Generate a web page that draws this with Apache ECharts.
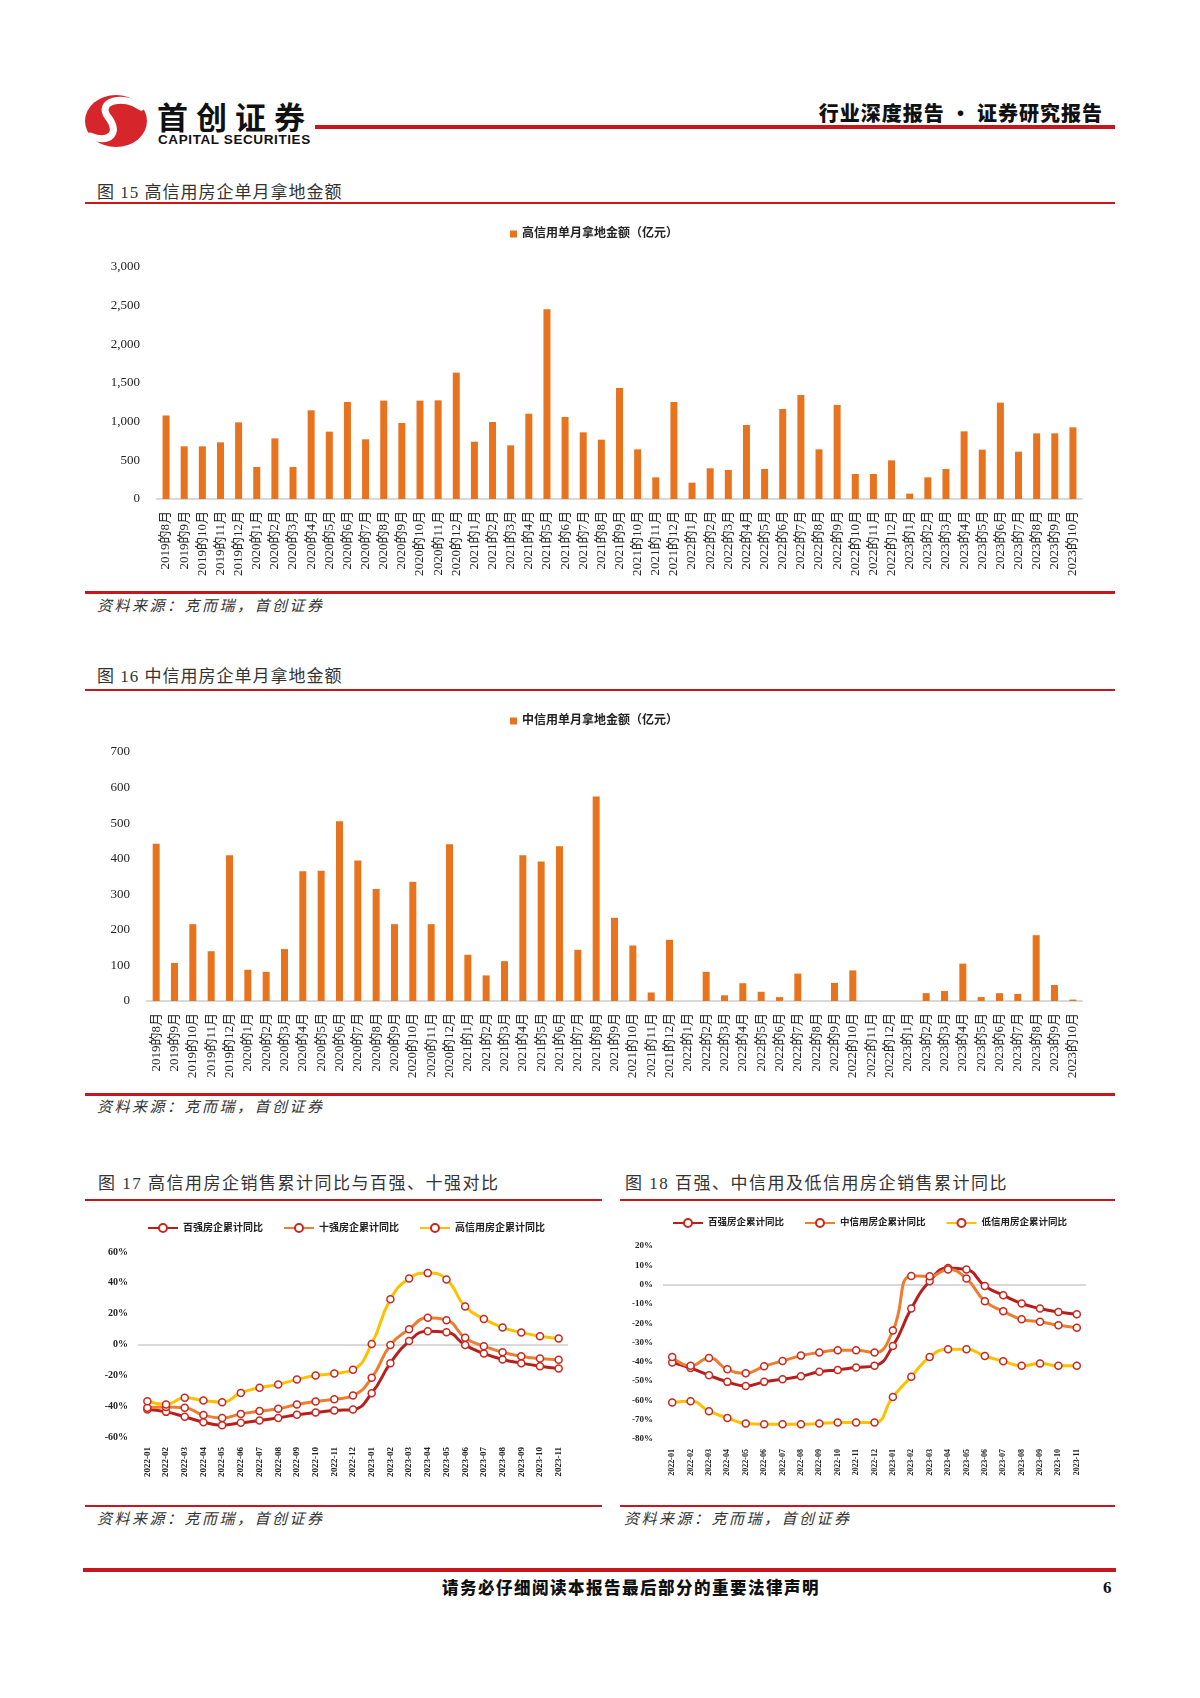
<!DOCTYPE html>
<html><head><meta charset="utf-8">
<script src="https://cdn.jsdelivr.net/npm/echarts/dist/echarts.min.js"></script>
<style>
body{margin:0;background:#fff;}
#page{position:relative;width:1200px;height:1698px;overflow:hidden;background:#fff;font-family:"Liberation Serif","Noto Sans CJK SC",serif;color:#222;}
.t{position:absolute;white-space:nowrap;line-height:1;}
.ln{position:absolute;background:#C8161D;}
#chart{position:absolute;left:0;top:0;width:1200px;height:1698px;}
</style></head>
<body>
<div id="page">
  <svg style="position:absolute;left:80px;top:90px" width="75" height="62" viewBox="80 90 75 62">
    <ellipse cx="116" cy="121" rx="31" ry="26" fill="#D7262B"/>
    <path d="M141 107 C124 94 96 101 108 117 C120 132 111 144 90 136" stroke="#fff" stroke-width="7" fill="none" stroke-linecap="round"/>
  </svg>
  <div class="t" style="left:157px;top:100px;font-size:31px;font-weight:bold;letter-spacing:8px;font-family:'Noto Sans CJK SC';color:#111;">首创证券</div>
  <div class="t" style="left:158px;top:133px;font-size:13.5px;font-weight:bold;font-family:'Liberation Sans';color:#111;letter-spacing:0.6px;">CAPITAL SECURITIES</div>
  <div class="ln" style="left:315px;top:125px;width:800px;height:4px;"></div>
  <div class="t" style="right:97px;top:103px;font-size:20px;font-weight:900;font-family:'Noto Sans CJK SC';color:#111;letter-spacing:1px;">行业深度报告 · 证券研究报告</div>

  <div class="t" style="left:97px;top:184px;font-size:17px;letter-spacing:1px;color:#333;">图 15 高信用房企单月拿地金额</div>
  <div class="ln" style="left:85px;top:202px;width:1030px;height:2px;"></div>
  <div class="ln" style="left:85px;top:591px;width:1030px;height:3px;"></div>
  <div class="t" style="left:97px;top:599px;font-size:15px;letter-spacing:2.5px;font-style:italic;color:#333;">资料来源：克而瑞，首创证券</div>

  <div class="t" style="left:97px;top:668px;font-size:17px;letter-spacing:1px;color:#333;">图 16 中信用房企单月拿地金额</div>
  <div class="ln" style="left:85px;top:689px;width:1030px;height:2px;"></div>
  <div class="ln" style="left:85px;top:1093px;width:1030px;height:3px;"></div>
  <div class="t" style="left:97px;top:1100px;font-size:15px;letter-spacing:2.5px;font-style:italic;color:#333;">资料来源：克而瑞，首创证券</div>

  <div class="t" style="left:98px;top:1175px;font-size:17px;letter-spacing:1.5px;color:#333;">图 17 高信用房企销售累计同比与百强、十强对比</div>
  <div class="t" style="left:625px;top:1175px;font-size:17px;letter-spacing:1.5px;color:#333;">图 18 百强、中信用及低信用房企销售累计同比</div>
  <div class="ln" style="left:85px;top:1199px;width:517px;height:2px;"></div>
  <div class="ln" style="left:620px;top:1199px;width:495px;height:2px;"></div>
  <div class="ln" style="left:85px;top:1505px;width:517px;height:2px;"></div>
  <div class="ln" style="left:620px;top:1505px;width:495px;height:2px;"></div>
  <div class="t" style="left:97px;top:1512px;font-size:15px;letter-spacing:2.5px;font-style:italic;color:#333;">资料来源：克而瑞，首创证券</div>
  <div class="t" style="left:624px;top:1512px;font-size:15px;letter-spacing:2.5px;font-style:italic;color:#333;">资料来源：克而瑞，首创证券</div>

  <div class="ln" style="left:83px;top:1568px;width:1033px;height:4px;"></div>
  <div class="t" style="left:442px;top:1579px;font-size:16.5px;font-weight:900;letter-spacing:1.5px;font-family:'Noto Sans CJK SC';color:#111;">请务必仔细阅读本报告最后部分的重要法律声明</div>
  <div class="t" style="left:1103px;top:1579px;font-size:17px;font-weight:bold;color:#111;">6</div>

  <div id="chart"></div>
</div>
<script>
// ---- data ----
const barCats = ['2019的8月','2019的9月','2019的10月','2019的11月','2019的12月',
  '2020的1月','2020的2月','2020的3月','2020的4月','2020的5月','2020的6月','2020的7月','2020的8月','2020的9月','2020的10月','2020的11月','2020的12月',
  '2021的1月','2021的2月','2021的3月','2021的4月','2021的5月','2021的6月','2021的7月','2021的8月','2021的9月','2021的10月','2021的11月','2021的12月',
  '2022的1月','2022的2月','2022的3月','2022的4月','2022的5月','2022的6月','2022的7月','2022的8月','2022的9月','2022的10月','2022的11月','2022的12月',
  '2023的1月','2023的2月','2023的3月','2023的4月','2023的5月','2023的6月','2023的7月','2023的8月','2023的9月','2023的10月'];
const highCreditLand = [1080,681,681,733,991,414,784,414,1147,871,1254,772,1272,983,1272,1276,1634,741,996,694,1103,2453,1060,862,767,1435,642,280,1254,211,397,375,957,388,1164,1345,642,1216,323,323,500,69,280,388,875,638,1246,612,849,849,927];
const midCreditLand = [442,107,216,140,410,88,82,146,365,366,505,395,315,216,335,216,441,130,72,112,410,392,435,144,575,234,156,24,172,0,82,16,50,26,11,77,0,51,86,0,0,0,22,28,105,11,22,20,185,45,4];

const lineCats = ['2022-01','2022-02','2022-03','2022-04','2022-05','2022-06','2022-07','2022-08','2022-09','2022-10','2022-11','2022-12',
  '2023-01','2023-02','2023-03','2023-04','2023-05','2023-06','2023-07','2023-08','2023-09','2023-10','2023-11'];
// Fig 17
const top100A = [-42.2,-43.7,-46.9,-50.4,-52.3,-50.8,-49.3,-47.6,-45.6,-44.1,-42.8,-42.2,-31.6,-12.1,2.2,8.6,8.0,-0.4,-5.8,-9.7,-12.1,-14.1,-15.6];
const top10 = [-41.1,-40.5,-41.0,-45.8,-47.6,-45.0,-43.2,-41.7,-38.9,-37.0,-35.5,-33.1,-21.6,-0.4,9.9,17.3,15.8,4.3,-1.1,-5.0,-7.6,-9.1,-9.9];
const highCredit = [-36.8,-38.9,-34.6,-36.3,-37.4,-31.4,-28.1,-25.9,-22.7,-20.1,-18.8,-16.4,0.4,29.4,42.8,46.3,42.2,24.6,16.6,11.0,7.8,5.4,3.9];
// Fig 18
const top100B = [-40.4,-43.2,-47.0,-50.4,-52.5,-50.4,-49.0,-47.5,-45.2,-44.2,-43.0,-42.1,-31.8,-12.4,1.7,8.6,7.8,-0.7,-5.5,-9.8,-12.4,-14.2,-15.4];
const midCredit = [-37.5,-42.1,-38.0,-43.9,-45.9,-42.3,-39.6,-36.8,-35.2,-34.0,-34.0,-35.2,-23.8,4.5,4.3,7.8,3.1,-8.6,-13.8,-18.0,-19.3,-21.1,-22.3];
const lowCredit = [-61.1,-60.4,-65.6,-69.1,-72.0,-72.4,-72.4,-72.4,-72.0,-71.5,-71.5,-71.5,-58.2,-47.7,-37.5,-33.5,-33.5,-37.0,-39.7,-42.1,-40.9,-42.1,-42.1];

// ---- chart ----
const BAR = '#E8731E', RED = '#B81E1E', ORANGE = '#ED7D31', YELLOW = '#FFC000';
const SERIF = 'Liberation Serif, Noto Sans CJK SC, serif';
const chart = echarts.init(document.getElementById('chart'), null, {renderer:'canvas'});

function barX(i){return {type:'category',gridIndex:i,data:barCats,
  axisLine:{lineStyle:{color:'#d9d9d9',width:2}},axisTick:{show:false},
  axisLabel:{rotate:90,interval:0,fontSize:13,margin:12,color:'#222',fontFamily:SERIF}};}
function lineX(i,fs){return {type:'category',gridIndex:i,data:lineCats,
  axisLine:{show:false,onZero:false},axisTick:{show:false},
  axisLabel:{rotate:90,interval:0,fontSize:fs,margin:10,color:'#222',fontWeight:'bold',fontFamily:SERIF}};}
function lineSeries(name,data,color,xi,zero){
  const s={type:'line',name,data,xAxisIndex:xi,yAxisIndex:xi,smooth:true,symbol:'circle',symbolSize:7,
    lineStyle:{color,width:3},itemStyle:{color:'#fff',borderColor:'#C8281E',borderWidth:1.5}};
  if(zero){s.markLine={silent:true,symbol:'none',label:{show:false},
    lineStyle:{color:'#d9d9d9',width:2,type:'solid'},data:[{yAxis:0}],z:1};}
  return s;
}
const legText = {fontSize:12,color:'#222',fontWeight:'bold',fontFamily:SERIF};
const legText2 = {fontSize:10,color:'#222',fontWeight:'bold',fontFamily:SERIF};
const legText3 = {fontSize:9.5,color:'#222',fontWeight:'bold',fontFamily:SERIF};

chart.setOption({
  animation:false,
  textStyle:{fontFamily:SERIF},
  grid:[
    {left:157,width:925,top:267,height:232},
    {left:147,width:935,top:752,height:249},
    {left:138,width:430,top:1252,height:185},
    {left:663,width:423,top:1246,height:193}
  ],
  legend:[
    {data:['高信用单月拿地金额（亿元）'],left:505,top:223,icon:'rect',itemWidth:7,itemHeight:7,textStyle:legText},
    {data:['中信用单月拿地金额（亿元）'],left:505,top:710,icon:'rect',itemWidth:7,itemHeight:7,textStyle:legText},
    {data:['百强房企累计同比','十强房企累计同比','高信用房企累计同比'],left:142,top:1218,itemWidth:30,itemHeight:10,itemGap:20,textStyle:legText2},
    {data:['百强房企累计同比','中信用房企累计同比','低信用房企累计同比'],left:667,top:1213,itemWidth:30,itemHeight:10,itemGap:20,textStyle:legText3}
  ],
  xAxis:[barX(0),barX(1),lineX(2,9),lineX(3,8)],
  yAxis:[
    {type:'value',gridIndex:0,min:0,max:3000,interval:500,splitLine:{show:false},axisLine:{show:false},
      axisLabel:{margin:17,fontSize:13,color:'#222',fontFamily:SERIF,formatter:v=>v.toLocaleString('en-US')}},
    {type:'value',gridIndex:1,min:0,max:700,interval:100,splitLine:{show:false},axisLine:{show:false},
      axisLabel:{margin:17,fontSize:13,color:'#222',fontFamily:SERIF}},
    {type:'value',gridIndex:2,min:-60,max:60,interval:20,splitLine:{show:false},axisLine:{show:false},
      axisLabel:{margin:10,fontSize:10,fontWeight:'bold',color:'#222',fontFamily:SERIF,formatter:'{value}%'}},
    {type:'value',gridIndex:3,min:-80,max:20,interval:10,splitLine:{show:false},axisLine:{show:false},
      axisLabel:{margin:10,fontSize:9,fontWeight:'bold',color:'#222',fontFamily:SERIF,formatter:'{value}%'}}
  ],
  series:[
    {type:'bar',name:'高信用单月拿地金额（亿元）',data:highCreditLand,xAxisIndex:0,yAxisIndex:0,barWidth:7,itemStyle:{color:BAR}},
    {type:'bar',name:'中信用单月拿地金额（亿元）',data:midCreditLand,xAxisIndex:1,yAxisIndex:1,barWidth:7,itemStyle:{color:BAR}},
    lineSeries('百强房企累计同比',top100A,RED,2,true),
    lineSeries('十强房企累计同比',top10,ORANGE,2,false),
    lineSeries('高信用房企累计同比',highCredit,YELLOW,2,false),
    lineSeries('百强房企累计同比',top100B,RED,3,true),
    lineSeries('中信用房企累计同比',midCredit,ORANGE,3,false),
    lineSeries('低信用房企累计同比',lowCredit,YELLOW,3,false)
  ]
});
</script>
</body></html>
